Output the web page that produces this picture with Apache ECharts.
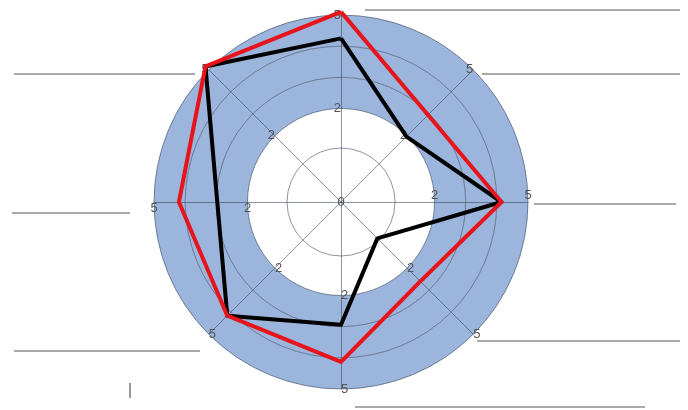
<!DOCTYPE html>
<html>
<head>
<meta charset="utf-8">
<script src="https://cdn.jsdelivr.net/npm/echarts@6/dist/echarts.min.js"></script>
<style>
html, body { margin: 0; padding: 0; background: #fff; }
#chart { width: 688px; height: 410px; }
</style>
</head>
<body>
<div id="chart"></div>
<script>
// axes go round from the top, counter-clockwise
var axisNames = ['A', 'B', 'C', 'D', 'E', 'F', 'G', 'H'];
var axisMax = 6;
// tick labels per split level (0..6); empty = no label, centre "0" drawn once
var tickLabels = ['', '', '', '2', '', '', '5'];
var centreLabel = '0';
var redValues = [6.1, 6.15, 5.2, 5.16, 5.13, 3.6, 5.15, 3.95];
var blackValues = [5.25, 6.15, 3.97, 5.16, 3.94, 1.65, 5.15, 2.97];
// leader lines left over from the hidden labels: [x1, y1, x2, y2]
var leaderLines = [
    [365, 10, 680, 10], [482, 74, 680, 74], [534, 204, 676, 204],
    [477, 341, 680, 341], [355, 407, 645, 407],
    [14, 74, 195, 74], [12, 213, 130, 213], [14, 351, 200, 351],
    [130, 383, 130, 398]
];

var chart = echarts.init(document.getElementById('chart'));

var indicator = axisNames.map(function (n) {
    return { name: n, min: 0, max: axisMax };
});

var gridLine = 'rgba(50, 60, 80, 0.55)';
var none = 'rgba(0,0,0,0)';
var cx = 341, cy = 202;

var option = {
    animation: false,
    radar: [{
        center: [cx, cy],
        radius: 187,
        shape: 'circle',
        startAngle: 90,
        splitNumber: axisMax,
        indicator: indicator,
        axisName: { show: false },
        axisLine: { lineStyle: { color: gridLine, width: 1 } },
        splitLine: {
            lineStyle: {
                color: [none, none, none, gridLine, gridLine, gridLine, gridLine],
                width: 1
            }
        },
        splitArea: {
            areaStyle: {
                color: ['#ffffff', '#ffffff', '#ffffff', '#9cb5dc', '#9cb5dc', '#9cb5dc']
            }
        },
        axisLabel: {
            show: true,
            color: '#555',
            fontSize: 13,
            fontFamily: 'Liberation Sans',
            margin: 0,
            formatter: function (v) {
                return tickLabels[Math.round(v)] || '';
            }
        }
    }, {
        center: [cx, cy],
        radius: 54,
        shape: 'circle',
        startAngle: 90,
        splitNumber: 1,
        indicator: indicator,
        axisName: { show: false },
        axisLine: { show: false },
        axisLabel: { show: false },
        splitArea: { show: false },
        splitLine: { lineStyle: { color: [none, gridLine], width: 1 } }
    }],
    graphic: leaderLines.map(function (l) {
        return {
            type: 'line',
            shape: { x1: l[0], y1: l[1], x2: l[2], y2: l[3] },
            style: { stroke: '#555', lineWidth: 1.2 }
        };
    }).concat([{
        type: 'text',
        x: cx, y: cy,
        z: 10,
        style: {
            text: centreLabel, fill: '#555', fontSize: 13,
            fontFamily: 'Liberation Sans', align: 'center', verticalAlign: 'middle'
        }
    }]),
    series: [{
        type: 'radar',
        radarIndex: 0,
        symbol: 'none',
        z: 3,
        lineStyle: { color: '#000', width: 4 },
        data: [{ value: blackValues }]
    }, {
        type: 'radar',
        radarIndex: 0,
        symbol: 'none',
        z: 4,
        lineStyle: { color: '#e8141c', width: 4 },
        data: [{ value: redValues }]
    }]
};
chart.setOption(option);
</script>
</body>
</html>
